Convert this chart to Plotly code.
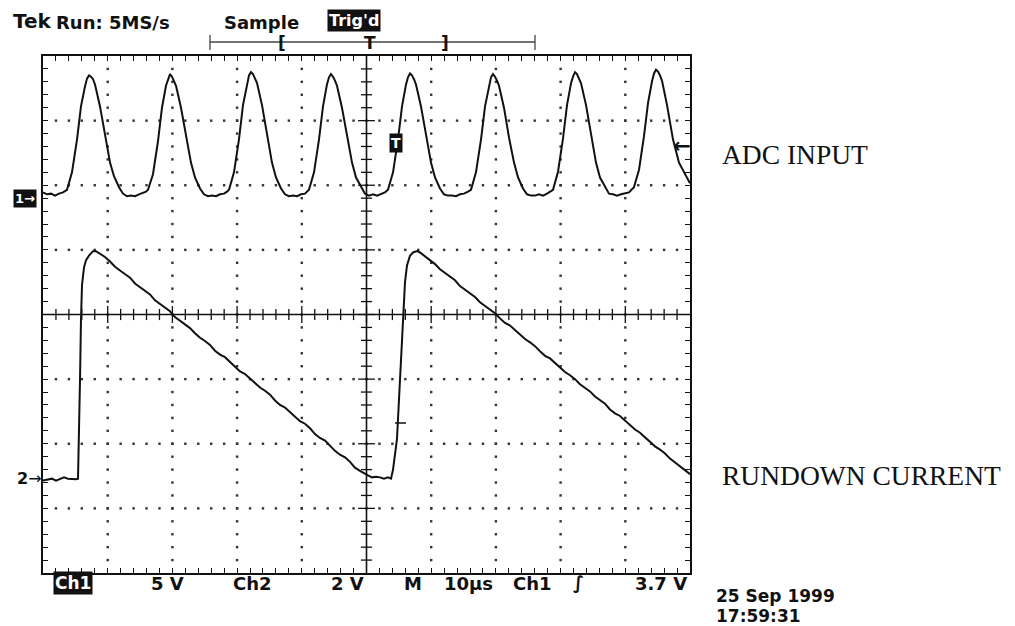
import plotly.graph_objects as go

# ---------------- data (time in microseconds, amplitude in screen divisions) ----------------
ch1_t = [0.00, 0.62, 1.24, 1.85, 2.47, 3.09,
         3.71, 4.48, 5.26, 5.87, 6.49, 6.80, 7.11, 7.42, 7.73, 8.04, 8.81, 9.58, 10.36, 10.97, 11.75, 12.36, 12.98,
         13.60, 14.22, 14.84, 15.46, 15.92,
         16.23, 17.00, 17.77, 18.39, 19.01, 19.32, 19.63, 19.94, 20.25, 20.56, 21.33, 22.10, 22.87, 23.49, 24.27, 24.88, 25.50,
         26.12, 26.74, 27.36, 27.98, 28.44,
         28.75, 29.52, 30.29, 30.91, 31.53, 31.84, 32.15, 32.46, 32.77, 33.08, 33.85, 34.62, 35.39, 36.01, 36.79, 37.40, 38.02,
         38.64, 39.26, 39.88, 40.49,
         41.11, 41.89, 42.66, 43.28, 43.89, 44.20, 44.51, 44.82, 45.13, 45.44, 46.21, 46.99, 47.76, 48.38, 49.15, 49.77, 50.39,
         51.00, 51.62, 52.24, 52.86,
         53.32, 54.10, 54.87, 55.49, 56.11, 56.41, 56.72, 57.03, 57.34, 57.65, 58.42, 59.20, 59.97, 60.59, 61.36, 61.98, 62.60,
         63.21, 63.83, 64.45, 65.07, 65.69,
         66.15, 66.92, 67.70, 68.32, 68.93, 69.24, 69.55, 69.86, 70.17, 70.48, 71.25, 72.02, 72.80, 73.42, 74.19, 74.81, 75.43,
         76.04, 76.66, 77.28, 77.90, 78.36,
         78.83, 79.60, 80.37, 80.99, 81.61, 81.92, 82.23, 82.53, 82.84, 83.15, 83.93, 84.70, 85.47, 86.09, 86.86, 87.48, 88.10,
         88.72, 89.34, 89.95, 90.57,
         91.34, 92.12, 92.89, 93.51, 94.13, 94.44, 94.75, 95.05, 95.36, 95.67, 96.45, 97.37, 98.30, 99.23, 100.0]
ch1_y = [1.89, 1.86, 1.87, 1.84, 1.87, 1.89,
         1.93, 2.20, 2.71, 3.22, 3.53, 3.65, 3.70, 3.68, 3.64, 3.56, 3.22, 2.76, 2.35, 2.14, 1.97, 1.87, 1.83,
         1.84, 1.83, 1.86, 1.89, 1.90,
         1.93, 2.17, 2.68, 3.20, 3.54, 3.65, 3.72, 3.68, 3.62, 3.54, 3.20, 2.74, 2.35, 2.12, 1.95, 1.86, 1.83,
         1.84, 1.83, 1.86, 1.87, 1.90,
         1.93, 2.20, 2.71, 3.24, 3.58, 3.70, 3.75, 3.72, 3.65, 3.58, 3.24, 2.76, 2.35, 2.12, 1.95, 1.86, 1.83,
         1.84, 1.83, 1.86, 1.87,
         1.93, 2.20, 2.71, 3.22, 3.56, 3.67, 3.72, 3.68, 3.62, 3.54, 3.20, 2.74, 2.35, 2.12, 1.97, 1.87, 1.84,
         1.86, 1.84, 1.87, 1.89,
         1.93, 2.20, 2.71, 3.22, 3.56, 3.67, 3.73, 3.70, 3.64, 3.56, 3.22, 2.76, 2.35, 2.12, 1.95, 1.86, 1.84,
         1.84, 1.83, 1.86, 1.87, 1.90,
         1.93, 2.20, 2.71, 3.22, 3.56, 3.67, 3.72, 3.68, 3.62, 3.54, 3.20, 2.74, 2.35, 2.12, 1.95, 1.86, 1.84,
         1.84, 1.86, 1.84, 1.87, 1.90,
         1.93, 2.21, 2.72, 3.24, 3.58, 3.68, 3.75, 3.72, 3.65, 3.58, 3.24, 2.76, 2.35, 2.12, 1.97, 1.87, 1.86,
         1.84, 1.86, 1.87, 1.89,
         1.97, 2.24, 2.76, 3.27, 3.61, 3.73, 3.79, 3.76, 3.70, 3.62, 3.24, 2.71, 2.35, 2.17, 2.03]

ch2_t = [0.00, 0.77, 1.39, 2.01, 2.63, 3.25, 3.86, 4.48, 5.10, 5.41,
         5.56, 5.72, 5.87, 6.03, 6.34, 6.65, 7.11, 7.73, 8.19,
         8.81, 9.58, 10.36, 11.13, 11.90, 12.67, 13.45, 14.22, 14.99, 15.76, 16.54, 17.31, 18.08, 18.86, 19.63,
         20.40, 21.17, 21.95, 22.72, 23.49, 24.27, 25.04, 25.81, 26.58, 27.36, 28.13, 28.90, 29.68, 30.45,
         31.22, 31.99, 32.77, 33.54, 34.31, 35.09, 35.86, 36.63, 37.40, 38.18, 38.95, 39.72, 40.49, 41.27,
         42.04, 42.81, 43.59, 44.36, 45.13, 45.90, 46.68, 47.45, 48.22, 48.99, 49.61,
         50.23, 50.85, 51.47, 52.09, 52.70, 53.32, 53.79,
         54.10, 54.40, 54.71, 55.02, 55.33, 55.64, 55.95, 56.26, 56.72, 57.19, 57.81, 58.27,
         59.04, 59.81, 60.59, 61.36, 62.13, 62.91, 63.68, 64.45, 65.22, 66.00, 66.77, 67.54, 68.32, 69.09,
         69.86, 70.63, 71.41, 72.18, 72.95, 73.73, 74.50, 75.27, 76.04, 76.82, 77.59, 78.36, 79.13, 79.91,
         80.68, 81.45, 82.23, 83.00, 83.77, 84.54, 85.32, 86.09, 86.86, 87.63, 88.41, 89.18, 89.95, 90.72,
         91.50, 92.27, 93.04, 93.82, 94.59, 95.36, 96.14, 96.91, 97.68, 98.45, 99.23, 100.0]
ch2_y = [-2.57, -2.55, -2.54, -2.57, -2.54, -2.52, -2.54, -2.55, -2.55, -2.54,
         -1.93, -1.01, -0.08, 0.46, 0.73, 0.84, 0.91, 0.98, 0.98,
         0.94, 0.89, 0.82, 0.74, 0.68, 0.63, 0.57, 0.48, 0.42, 0.37, 0.31, 0.22, 0.16, 0.11, 0.05,
         -0.04, -0.10, -0.15, -0.21, -0.29, -0.36, -0.41, -0.47, -0.56, -0.62, -0.66, -0.73, -0.81, -0.88,
         -0.92, -0.99, -1.07, -1.13, -1.18, -1.24, -1.33, -1.40, -1.44, -1.51, -1.59, -1.65, -1.69, -1.76,
         -1.85, -1.91, -1.95, -2.03, -2.11, -2.17, -2.21, -2.28, -2.37, -2.42, -2.46,
         -2.49, -2.52, -2.51, -2.52, -2.54, -2.52, -2.54,
         -2.40, -2.17, -1.93, -1.32, -0.70, -0.08, 0.50, 0.76, 0.91, 0.96, 0.98, 0.96,
         0.90, 0.84, 0.78, 0.70, 0.64, 0.59, 0.53, 0.44, 0.38, 0.33, 0.27, 0.19, 0.13, 0.08,
         0.02, -0.06, -0.13, -0.17, -0.24, -0.32, -0.38, -0.43, -0.49, -0.57, -0.64, -0.68, -0.75, -0.83,
         -0.89, -0.94, -1.00, -1.08, -1.14, -1.19, -1.27, -1.32, -1.38, -1.47, -1.53, -1.57, -1.64, -1.72,
         -1.78, -1.83, -1.90, -1.98, -2.04, -2.09, -2.15, -2.23, -2.29, -2.34, -2.41, -2.47]

header_labels = ["Run: 5MS/s", "Sample", "Trig'd"]
footer_labels = ["Ch1", "5 V", "Ch2", "2 V", "M", "10µs", "Ch1", "∫", "3.7 V"]
date_labels = ["25 Sep 1999", "17:59:31"]
channel_names = ["ADC INPUT", "RUNDOWN CURRENT"]

# ---------------- screen geometry ----------------
W, H = 1015, 626
L, R, T, B = 43, 690, 56, 573
XDIV = 10.0   # µs per division
X0, X1 = 0.0, 100.0
Y0, Y1 = -4.0, 4.0


def px(x):
    return (x - L) / (R - L)


def py(y):
    return (B - y) / (B - T)


SANS = "DejaVu Sans"
SERIF = "Liberation Serif"
INK = "#111111"

fig = go.Figure()

# dotted graticule
gx, gy = [], []
for k in range(1, 10):
    if k == 5:
        continue
    for j in range(1, 40):
        gx.append(k * XDIV)
        gy.append(Y0 + j * 0.2)
for k in range(-3, 4):
    if k == 0:
        continue
    for j in range(1, 50):
        gx.append(X0 + j * 2.0)
        gy.append(k)
fig.add_trace(go.Scatter(x=gx, y=gy, mode="markers",
                         marker=dict(symbol="square", size=2.4, color="#333333", line=dict(width=0)),
                         hoverinfo="skip"))

# centre cross lines with ticks
fig.add_shape(type="line", x0=X0, x1=X1, y0=0, y1=0, line=dict(color=INK, width=1.6))
fig.add_shape(type="line", x0=50, x1=50, y0=Y0, y1=Y1, line=dict(color=INK, width=1.6))
tx_minor = [j * 2.0 for j in range(1, 50) if j % 5 != 0]
tx_major = [j * 10.0 for j in range(1, 10)]
ty_minor = [Y0 + j * 0.2 for j in range(1, 40) if j % 5 != 0]
ty_major = [float(k) for k in range(-3, 4)]
fig.add_trace(go.Scatter(x=tx_minor, y=[0] * len(tx_minor), mode="markers",
                         marker=dict(symbol="line-ns", size=8, line=dict(width=1.3, color=INK)), hoverinfo="skip"))
fig.add_trace(go.Scatter(x=tx_major, y=[0] * len(tx_major), mode="markers",
                         marker=dict(symbol="line-ns", size=12, line=dict(width=1.3, color=INK)), hoverinfo="skip"))
fig.add_trace(go.Scatter(x=[50] * len(ty_minor), y=ty_minor, mode="markers",
                         marker=dict(symbol="line-ew", size=8, line=dict(width=1.3, color=INK)), hoverinfo="skip"))
fig.add_trace(go.Scatter(x=[50] * len(ty_major), y=ty_major, mode="markers",
                         marker=dict(symbol="line-ew", size=12, line=dict(width=1.3, color=INK)), hoverinfo="skip"))

# waveforms
fig.add_trace(go.Scatter(x=ch1_t, y=ch1_y, mode="lines", line=dict(color=INK, width=2.0), name="Ch1"))
fig.add_trace(go.Scatter(x=ch2_t, y=ch2_y, mode="lines", line=dict(color=INK, width=2.0), name="Ch2"))

shapes = []
# record-length bar
shapes.append(dict(type="line", xref="paper", yref="paper", x0=px(210), x1=px(535), y0=py(42), y1=py(42),
                   line=dict(color="#444444", width=1.3)))
for xe in (210, 535):
    shapes.append(dict(type="line", xref="paper", yref="paper", x0=px(xe), x1=px(xe), y0=py(35), y1=py(50),
                       line=dict(color="#444444", width=1.3)))
# trigger crosshair on ch2
shapes.append(dict(type="line", xref="paper", yref="paper", x0=px(395), x1=px(406), y0=py(423), y1=py(423),
                   line=dict(color=INK, width=1.5)))
for s in shapes:
    fig.add_shape(**s)

ann = []


def text(x, y, s, size=18, xanchor="left", color=INK, family=SANS, bg=None, bold=False, yanchor="middle"):
    d = dict(x=px(x), y=py(y), xref="paper", yref="paper", text=("<b>%s</b>" % s) if bold else s,
             showarrow=False, xanchor=xanchor, yanchor=yanchor,
             font=dict(family=family, size=size, color=color))
    if bg:
        d["bgcolor"] = bg
        d["borderpad"] = 1
    ann.append(d)


# header
text(11, 21, "Tek", size=20, bold=True)
text(54, 22, header_labels[0], size=18, bold=True)
text(222, 22, header_labels[1], size=18, bold=True)
text(327, 21, header_labels[2], size=16, color="white", bg="#111111", bold=True)
text(282, 43, "[", size=17, xanchor="center", bold=True)
text(370, 43, "T", size=17, xanchor="center", bold=True)
text(445, 43, "]", size=17, xanchor="center", bold=True)

# channel markers
text(25, 199, "1→", size=13, xanchor="center", color="white", bg="#111111", bold=True)
text(15, 479, "<b>2</b>→", size=16)
text(396, 143, "T", size=14, xanchor="center", color="white", bg="#111111", bold=True)
text(693, 146, "←", size=21, xanchor="right", bold=True)

# channel names
text(720, 154, channel_names[0], size=27.5, family=SERIF)
text(720, 475, channel_names[1], size=27.5, family=SERIF)

# footer
text(73, 583, footer_labels[0], size=17, xanchor="center", color="white", bg="#111111", bold=True)
text(186, 583, footer_labels[1], size=18, xanchor="right", bold=True)
text(231, 583, footer_labels[2], size=18, bold=True)
text(366, 583, footer_labels[3], size=18, xanchor="right", bold=True)
text(402, 583, footer_labels[4], size=18, bold=True)
text(442, 583, footer_labels[5], size=18, bold=True)
text(511, 583, footer_labels[6], size=18, bold=True)
text(578, 583, footer_labels[7], size=18, xanchor="center", bold=True)
text(689, 583, footer_labels[8], size=18, xanchor="right", bold=True)
text(714, 596, date_labels[0], size=17, bold=True)
text(714, 616, date_labels[1], size=17, bold=True)

fig.update_layout(
    width=W, height=H,
    margin=dict(l=L, r=W - R, t=T, b=H - B, pad=0),
    paper_bgcolor="white", plot_bgcolor="white",
    showlegend=False, hovermode=False,
    annotations=ann,
    xaxis=dict(range=[X0, X1], showgrid=False, zeroline=False, showticklabels=False,
               showline=True, linecolor=INK, linewidth=2, mirror="ticks",
               ticks="inside", tick0=0, dtick=2, ticklen=5, tickwidth=1.2, tickcolor=INK, fixedrange=True),
    yaxis=dict(range=[Y0, Y1], showgrid=False, zeroline=False, showticklabels=False,
               showline=True, linecolor=INK, linewidth=2, mirror="ticks",
               ticks="inside", tick0=0, dtick=0.2, ticklen=5, tickwidth=1.2, tickcolor=INK, fixedrange=True),
)

fig.write_html("out.html")
